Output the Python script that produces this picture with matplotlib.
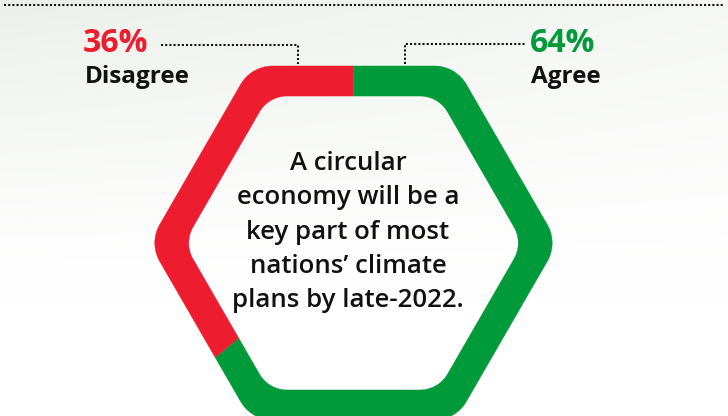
import numpy as np
import matplotlib
matplotlib.use("Agg")
import matplotlib.pyplot as plt

# survey result
answers = ["Agree", "Disagree"]
shares = [64, 36]
share_labels = ["64%", "36%"]
colours = ["#009a3a", "#ed1c2f"]
statement = ["A circular", "economy will be a", "key part of most",
             "nations\u2019 climate", "plans by late-2022."]

plt.rcParams["font.family"] = ["Open Sans", "DejaVu Sans"]

W, H = 728, 416
fig = plt.figure(figsize=(W / 100, H / 100), dpi=100)
ax = fig.add_axes([0, 0, 1, 1])
ax.set_xlim(0, W)
ax.set_ylim(H, 0)
ax.axis("off")

# soft background wash, greyish at top-left fading to white
yy, xx = np.mgrid[0:H, 0:W]
a = np.clip(1 - yy / 300.0, 0, 1) ** 1.3 * (1 - 0.5 * xx / W)
tint = np.array([0.925, 0.94, 0.915])
bg = (1 - a[..., None]) + a[..., None] * tint
ax.imshow(bg, extent=(0, W, H, 0), zorder=0)

cx, cy = 353.5, 243


def rounded_hex(R, r, n_arc=60, n_edge=80):
    d = R - r / np.sin(np.pi / 3)
    pts = []
    for k in range(6):
        th = np.radians(60 * k)
        c = d * np.array([np.cos(th), np.sin(th)])
        phi = np.linspace(th - np.pi / 6, th + np.pi / 6, n_arc)
        arc = np.column_stack([c[0] + r * np.cos(phi), c[1] + r * np.sin(phi)])
        pts.append(arc)
        th2 = np.radians(60 * (k + 1))
        c2 = d * np.array([np.cos(th2), np.sin(th2)])
        p1 = c2 + r * np.array([np.cos(th2 - np.pi / 6), np.sin(th2 - np.pi / 6)])
        t = np.linspace(0, 1, n_edge)[1:-1]
        pts.append(arc[-1] + (p1 - arc[-1]) * t[:, None])
    pts = np.vstack(pts)
    ang = np.arctan2(pts[:, 1], pts[:, 0]) % (2 * np.pi)
    rad = np.hypot(pts[:, 0], pts[:, 1])
    o = np.argsort(ang)
    return ang[o], rad[o]


outer = rounded_hex(204.4, 37)
inner = rounded_hex(169.7, 32)


def rad_at(th, shape):
    return np.interp(th % (2 * np.pi), shape[0], shape[1], period=2 * np.pi)


# segments go clockwise from the top
start = 90.0
for val, col in zip(shares, colours):
    a1 = start
    a0 = start - val * 3.6
    th = np.radians(np.linspace(a0, a1, 600))
    ro = rad_at(th, outer)
    ri = rad_at(th, inner)
    xs = np.concatenate([cx + ro * np.cos(th), (cx + ri * np.cos(th))[::-1]])
    ys = np.concatenate([cy - ro * np.sin(th), (cy - ri * np.sin(th))[::-1]])
    ax.fill(xs, ys, color=col, ec=col, lw=0.3, zorder=2)
    start = a0

# dotted rules and leaders
dots = dict(color="#111111", lw=1.5, ls=(0, (1, 1)), zorder=3)
ax.plot([4, 724], [5, 5], **dots)
ax.plot([161, 298, 298], [45, 45, 64], **dots)
ax.plot([405, 405, 525], [64, 44, 44], **dots)

# labels
ax.text(83, 52, share_labels[1], color=colours[1], fontsize=23,
        fontweight="bold", ha="left", va="baseline")
ax.text(85, 83, answers[1], color="#111111", fontsize=17.5,
        fontweight="bold", ha="left", va="baseline")
ax.text(530, 52, share_labels[0], color=colours[0], fontsize=23,
        fontweight="bold", ha="left", va="baseline")
ax.text(531, 83, answers[0], color="#111111", fontsize=17.5,
        fontweight="bold", ha="left", va="baseline")

for i, line in enumerate(statement):
    ax.text(348, 170 + i * 34.3, line, color="#111111", fontsize=18.5,
            fontweight="semibold", ha="center", va="baseline")

fig.savefig("out.png", dpi=100)
